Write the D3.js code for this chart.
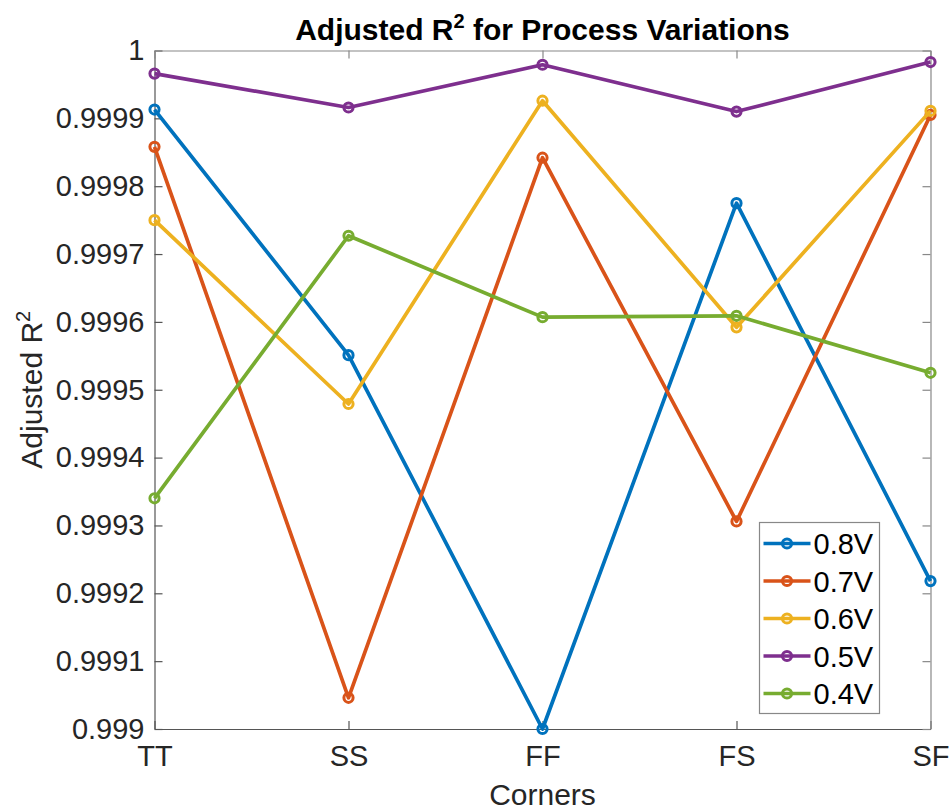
<!DOCTYPE html>
<html>
<head>
<meta charset="utf-8">
<script src="https://cdn.jsdelivr.net/npm/d3@7"></script>
<style>
  html, body { margin: 0; padding: 0; background: #fff; }
  svg { display: block; font-family: "Liberation Sans", Arial, Helvetica, sans-serif; }
</style>
</head>
<body>
<svg id="chart" width="951" height="811"></svg>
<script>
// Process corners on the x axis
const corners = ["TT", "SS", "FF", "FS", "SF"];

// Adjusted R^2 per supply voltage, one value per corner
const r2_08V = [0.999913, 0.999551, 0.999000, 0.999775, 0.999218];
const r2_07V = [0.999858, 0.999046, 0.999842, 0.999306, 0.999905];
const r2_06V = [0.999750, 0.999479, 0.999926, 0.999592, 0.999911];
const r2_05V = [0.999966, 0.999916, 0.999979, 0.999910, 0.999983];
const r2_04V = [0.999340, 0.999727, 0.999607, 0.999609, 0.999525];

const seriesNames = ["0.8V", "0.7V", "0.6V", "0.5V", "0.4V"];
const seriesValues = [r2_08V, r2_07V, r2_06V, r2_05V, r2_04V];
const seriesColors = ["#0072BD", "#D95319", "#EDB120", "#7E2F8E", "#77AC30"];

const yTickValues = [0.999, 0.9991, 0.9992, 0.9993, 0.9994, 0.9995, 0.9996, 0.9997, 0.9998, 0.9999, 1];
const yTickLabels = ["0.999", "0.9991", "0.9992", "0.9993", "0.9994", "0.9995", "0.9996", "0.9997", "0.9998", "0.9999", "1"];

const svg = d3.select("#chart");
const plot = { left: 154.5, right: 930.5, top: 50.5, bottom: 729 };

const x = d3.scalePoint().domain(corners).range([plot.left, plot.right]).padding(0);
const y = d3.scaleLinear().domain([0.999, 1]).range([plot.bottom, plot.top]);

const textColor = "#262626";
const tickFont = 29;

// Bottom axis (ticks point inward)
const gx = svg.append("g")
  .attr("transform", `translate(0,${plot.bottom})`)
  .call(d3.axisBottom(x).tickSizeInner(-8).tickSizeOuter(0).tickPadding(16));
// Left axis
const gy = svg.append("g")
  .attr("transform", `translate(${plot.left},0)`)
  .call(d3.axisLeft(y).tickValues(yTickValues)
    .tickFormat((d, i) => yTickLabels[i])
    .tickSizeInner(-8).tickSizeOuter(0).tickPadding(10));
// Top and right axes: box edges with mirrored ticks
const gt = svg.append("g")
  .attr("transform", `translate(0,${plot.top})`)
  .call(d3.axisTop(x).tickSizeInner(-8).tickSizeOuter(0).tickFormat(""));
const gr = svg.append("g")
  .attr("transform", `translate(${plot.right},0)`)
  .call(d3.axisRight(y).tickValues(yTickValues).tickSizeInner(-8).tickSizeOuter(0).tickFormat(""));

[gx, gy].forEach(g => {
  g.selectAll("path.domain, line").attr("stroke", "#555").attr("stroke-width", 1.2);
  g.selectAll("text").attr("fill", textColor).attr("font-size", tickFont)
    .attr("font-family", "'Liberation Sans', Arial, sans-serif");
});
[gt, gr].forEach(g => {
  g.selectAll("path.domain, line").attr("stroke", "#888").attr("stroke-width", 1.2);
});

// Series lines and open-circle markers
const line = d3.line().x((d, i) => x(corners[i])).y(d => y(d));
seriesValues.forEach((vals, s) => {
  const g = svg.append("g");
  g.append("path")
    .attr("d", line(vals))
    .attr("fill", "none")
    .attr("stroke", seriesColors[s])
    .attr("stroke-width", 3.7)
    .attr("stroke-linejoin", "round");
  g.selectAll("circle").data(vals).enter().append("circle")
    .attr("cx", (d, i) => x(corners[i]))
    .attr("cy", d => y(d))
    .attr("r", 4.6)
    .attr("fill", "none")
    .attr("stroke", seriesColors[s])
    .attr("stroke-width", 3);
});

// Title
const title = svg.append("text")
  .attr("x", (plot.left + plot.right) / 2)
  .attr("y", 40)
  .attr("text-anchor", "middle")
  .attr("font-size", 30)
  .attr("font-weight", "bold")
  .attr("fill", "#000");
title.append("tspan").text("Adjusted R");
title.append("tspan").attr("font-size", 20).attr("dy", -12).text("2");
title.append("tspan").attr("dy", 12).text(" for Process Variations");

// Axis labels
svg.append("text")
  .attr("x", (plot.left + plot.right) / 2)
  .attr("y", 805)
  .attr("text-anchor", "middle")
  .attr("font-size", 30)
  .attr("fill", textColor)
  .text("Corners");

const ylab = svg.append("text")
  .attr("transform", `translate(42,${(plot.top + plot.bottom) / 2}) rotate(-90)`)
  .attr("text-anchor", "middle")
  .attr("font-size", 30)
  .attr("fill", textColor);
ylab.append("tspan").text("Adjusted R");
ylab.append("tspan").attr("font-size", 20).attr("dy", -12).text("2");

// Legend
const legend = { x: 759.5, y: 522.5, w: 120, h: 191, row0: 543.5, step: 37.5 };
svg.append("rect")
  .attr("x", legend.x).attr("y", legend.y)
  .attr("width", legend.w).attr("height", legend.h)
  .attr("fill", "#fff").attr("stroke", "#888").attr("stroke-width", 1.2);
seriesNames.forEach((name, s) => {
  const cy = legend.row0 + s * legend.step;
  svg.append("line")
    .attr("x1", legend.x + 4).attr("x2", legend.x + 51)
    .attr("y1", cy).attr("y2", cy)
    .attr("stroke", seriesColors[s]).attr("stroke-width", 3.7);
  svg.append("circle")
    .attr("cx", legend.x + 27.5).attr("cy", cy).attr("r", 4.6)
    .attr("fill", "none").attr("stroke", seriesColors[s]).attr("stroke-width", 3);
  svg.append("text")
    .attr("x", legend.x + 54).attr("y", cy + 10.5)
    .attr("font-size", 29).attr("fill", "#000")
    .text(name);
});
</script>
</body>
</html>
